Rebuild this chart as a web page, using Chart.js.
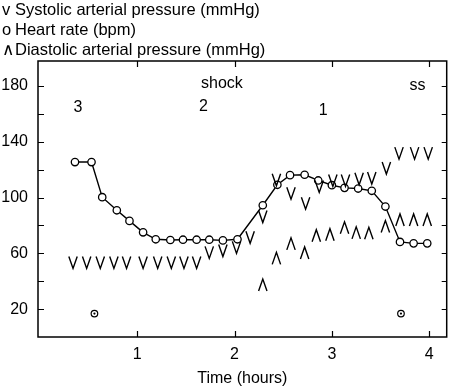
<!DOCTYPE html>
<html>
<head>
<meta charset="utf-8">
<script src="https://cdn.jsdelivr.net/npm/chart.js@4.4.1/dist/chart.umd.min.js"></script>
<style>
  html, body { margin: 0; padding: 0; background: #fff; }
  #wrap { position: relative; width: 452px; height: 391px; }
  #legend { position: absolute; left: 2px; top: -1px; font: 16.5px "Liberation Sans", Arial, sans-serif; line-height: 20px; color: #000; white-space: nowrap; }
  #legend .sym { display: inline-block; width: 13px; }
</style>
</head>
<body>
<div id="wrap">
  <canvas id="vitals" width="452" height="391"></canvas>
  <div id="legend">
    <div><span class="sym">v</span>Systolic arterial pressure (mmHg)</div>
    <div><span class="sym">o</span>Heart rate (bpm)</div>
    <div><span class="sym">&#x2227;</span>Diastolic arterial pressure (mmHg)</div>
  </div>
</div>
<script>
'use strict';

const FONT = '"Liberation Sans", Arial, sans-serif';

// heart rate (bpm)
const hrTime = [0.36, 0.53, 0.64, 0.79, 0.92, 1.06, 1.19, 1.34, 1.47, 1.61, 1.74, 1.88, 2.03,
                2.29, 2.44, 2.57, 2.72, 2.86, 3.00, 3.13, 3.27, 3.41, 3.55, 3.70, 3.84, 3.98];
const hrValue = [125.5, 125.5, 100.3, 90.9, 83.3, 75.1, 70.1, 69.6, 69.8, 69.8, 69.8, 69.3, 70.1,
                 94.5, 109.2, 116.1, 116.4, 112.3, 108.9, 107.0, 106.5, 104.9, 93.6, 68.2, 67.2, 67.2];

// systolic arterial pressure (mmHg)
const sysTime = [0.34, 0.48, 0.62, 0.76, 0.89, 1.06, 1.21, 1.35, 1.48, 1.61, 1.74, 1.88, 2.02, 2.16,
                 2.29, 2.43, 2.58, 2.73, 2.87, 3.01, 3.14, 3.28, 3.41, 3.56, 3.69, 3.85, 3.99];
const sysValue = [53.5, 53.5, 53.5, 53.5, 53.5, 53.5, 53.5, 53.5, 53.5, 53.5, 60.7, 62.0, 64.3, 71.5,
                  86.4, 112.8, 103.2, 96.0, 108.0, 112.3, 112.3, 113.5, 114.0, 121.2, 131.9, 131.9, 131.9];

// diastolic arterial pressure (mmHg)
const diaTime = [2.29, 2.43, 2.58, 2.72, 2.84, 2.98, 3.13, 3.25, 3.38, 3.55, 3.70, 3.84, 3.98];
const diaValue = [37.3, 56.4, 66.8, 60.3, 72.7, 73.4, 78.3, 74.7, 74.4, 79.2, 84.0, 84.0, 84.0];

// isolated dotted circles
const dotTime = [0.56, 3.71];
const dotValue = [16.8, 16.8];

// text notes inside the plot
const noteText = ['3', '2', '1', 'shock', 'ss'];
const noteX = [0.39, 1.68, 2.91, 1.87, 3.88];
const noteY = [164.6, 165.0, 162.2, 181.9, 180.7];

const xTicks = [1, 2, 3, 4];
const yTicks = [20, 40, 60, 80, 100, 120, 140, 160, 180];
const yLabels = [20, 60, 100, 140, 180];

const pairs = (xs, ys) => xs.map((x, i) => ({ x, y: ys[i] }));

// marker shapes, drawn at the positions the library computed for each point
const shapes = {
  v(ctx, x, y) { ctx.moveTo(x - 4.2, y - 6); ctx.lineTo(x, y + 6); ctx.lineTo(x + 4.2, y - 6); },
  lambda(ctx, x, y) { ctx.moveTo(x - 4.2, y + 6); ctx.lineTo(x, y - 6); ctx.lineTo(x + 4.2, y + 6); },
};

const markers = {
  id: 'markers',
  afterDatasetsDraw(chart) {
    const ctx = chart.ctx;
    ctx.save();
    ctx.strokeStyle = '#000';
    ctx.fillStyle = '#000';
    ctx.lineWidth = 1.4;
    chart.data.datasets.forEach((ds, i) => {
      const pts = chart.getDatasetMeta(i).data;
      if (ds.mark === 'v' || ds.mark === 'lambda') {
        ctx.beginPath();
        pts.forEach(p => shapes[ds.mark](ctx, p.x, p.y));
        ctx.stroke();
      } else if (ds.mark === 'dot') {
        pts.forEach(p => {
          ctx.lineWidth = 1.2;
          ctx.beginPath(); ctx.arc(p.x, p.y, 3.3, 0, Math.PI * 2); ctx.stroke();
          ctx.beginPath(); ctx.arc(p.x, p.y, 1.1, 0, Math.PI * 2); ctx.fill();
        });
      }
    });
    ctx.restore();
  }
};

const frame = {
  id: 'frame',
  afterDraw(chart) {
    const { ctx, chartArea: a, scales: { x, y } } = chart;
    ctx.save();
    ctx.strokeStyle = '#000';
    ctx.lineWidth = 1.5;
    ctx.strokeRect(a.left, a.top, a.right - a.left, a.bottom - a.top);
    ctx.lineWidth = 1.2;
    ctx.beginPath();
    xTicks.forEach(v => {
      const px = Math.round(x.getPixelForValue(v)) + 0.5;
      ctx.moveTo(px, a.bottom); ctx.lineTo(px, a.bottom - 6);
      ctx.moveTo(px, a.top); ctx.lineTo(px, a.top + 6);
    });
    yTicks.forEach(v => {
      const py = Math.round(y.getPixelForValue(v)) + 0.5;
      ctx.moveTo(a.left, py); ctx.lineTo(a.left + 6, py);
      ctx.moveTo(a.right, py); ctx.lineTo(a.right - 5, py);
    });
    ctx.stroke();
    ctx.fillStyle = '#000';
    ctx.font = '16px ' + FONT;
    ctx.textAlign = 'center';
    ctx.textBaseline = 'middle';
    noteText.forEach((t, i) => ctx.fillText(t, x.getPixelForValue(noteX[i]), y.getPixelForValue(noteY[i])));
    ctx.restore();
  }
};

new Chart(document.getElementById('vitals'), {
  type: 'scatter',
  data: {
    datasets: [
      { label: 'Heart rate (bpm)', data: pairs(hrTime, hrValue), showLine: true, borderColor: '#000', borderWidth: 1.4,
        pointStyle: 'circle', pointRadius: 3.7, pointBorderWidth: 1.3, pointBackgroundColor: '#fff', pointBorderColor: '#000' },
      { label: 'Systolic arterial pressure (mmHg)', mark: 'v', data: pairs(sysTime, sysValue), pointRadius: 0 },
      { label: 'Diastolic arterial pressure (mmHg)', mark: 'lambda', data: pairs(diaTime, diaValue), pointRadius: 0 },
      { label: 'dots', mark: 'dot', data: pairs(dotTime, dotValue), pointRadius: 0 },
    ],
  },
  options: {
    responsive: false,
    animation: false,
    layout: { padding: { left: 0, right: 4, top: 61, bottom: 0 } },
    plugins: { legend: { display: false }, tooltip: { enabled: false } },
    scales: {
      x: {
        type: 'linear', min: -0.02, max: 4.18,
        grid: { display: false, drawTicks: false }, border: { display: false },
        afterBuildTicks: s => { s.ticks = xTicks.map(v => ({ value: v })); },
        afterFit: s => { s.height = 54; },
        ticks: { color: '#000', font: { size: 16, family: FONT }, padding: 8, maxRotation: 0, autoSkip: false },
        title: { display: true, text: 'Time (hours)', color: '#000', font: { size: 16, family: FONT }, padding: { top: 0, bottom: 3 } },
      },
      y: {
        type: 'linear', min: 0, max: 198,
        grid: { display: false, drawTicks: false }, border: { display: false },
        afterBuildTicks: s => { s.ticks = yTicks.map(v => ({ value: v })); },
        afterFit: s => { s.width = 38; },
        ticks: { color: '#000', font: { size: 16, family: FONT }, padding: 10, autoSkip: false,
                 callback: v => yLabels.includes(v) ? String(v) : '' },
      },
    },
  },
  plugins: [markers, frame],
});
</script>
</body>
</html>
